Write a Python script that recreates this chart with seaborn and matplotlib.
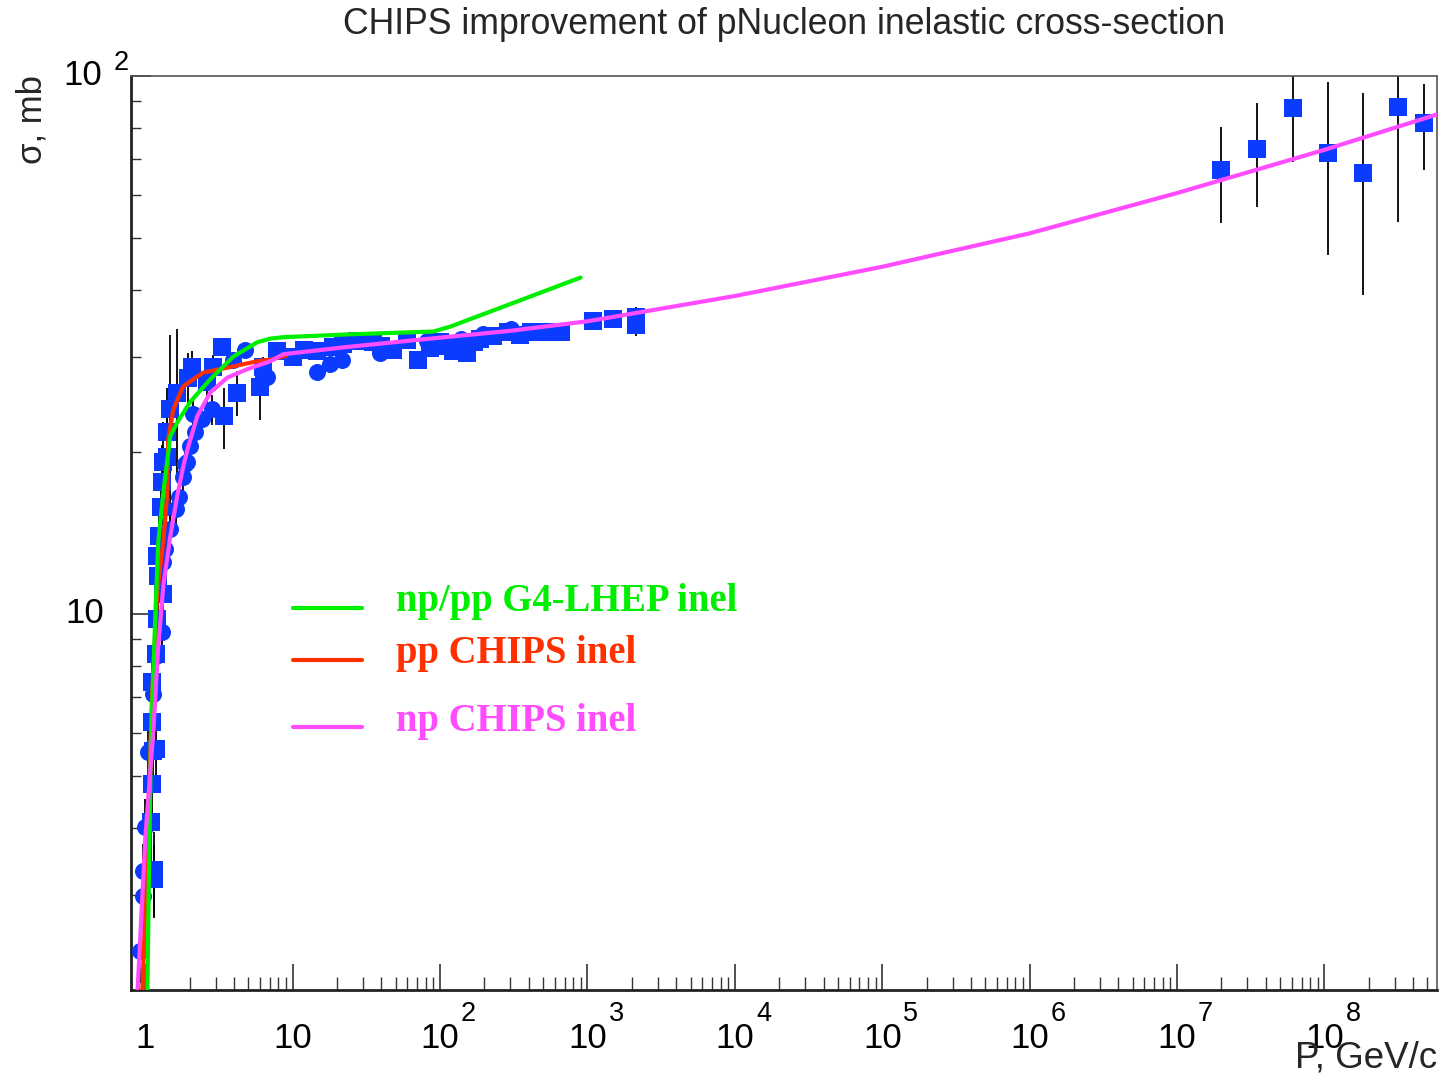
import matplotlib
matplotlib.use("Agg")
import matplotlib.pyplot as plt
import matplotlib.transforms as mtransforms
from matplotlib.ticker import LogLocator, NullFormatter
import numpy as np
import pandas as pd
import seaborn as sns

# ---------------- data ----------------
# proton-proton inelastic cross-section measurements (P in GeV/c, sigma in mb)
pp_p = [1.151, 1.151, 1.098, 1.115, 1.133, 1.188, 1.115, 1.115, 1.188, 1.206,
        1.325, 1.225, 1.206, 1.245, 1.284, 1.305, 1.325, 1.41, 1.41, 1.478,
        1.65, 1.96, 2.085, 2.63, 2.89, 3.33, 3.43, 4.21, 6.04, 6.33,
        7.87, 10.1, 12.0, 14.7, 18.9, 22.0, 27.5, 35.3, 40.0, 48.3,
        60.0, 70.3, 85.0, 100.0, 110.0, 123.0, 140.0, 153.0, 170.0, 188.0,
        230.0, 287.0, 350.0, 411.0, 504.0, 657.0, 1083.0, 1480.0, 2120.0, 2120.0,
        1.99e7, 3.49e7, 6.12e7, 1.06e8, 1.83e8, 3.16e8, 4.75e8]
pp_sig = [3.22, 3.34, 4.11, 4.84, 5.57, 5.62, 6.30, 7.48, 8.43, 9.79,
          10.9, 11.76, 12.8, 13.95, 15.8, 17.6, 19.2, 19.6, 21.8, 24.0,
          25.8, 27.5, 28.8, 27.0, 28.8, 31.3, 23.3, 25.8, 26.4, 28.8,
          30.8, 30.1, 31.0, 30.8, 31.3, 31.8, 32.1, 32.0, 31.5, 31.0,
          32.3, 29.7, 31.2, 32.0, 31.5, 30.8, 31.8, 30.6, 32.0, 32.4,
          32.8, 33.4, 33.0, 33.5, 33.4, 33.5, 35.0, 35.3, 35.6, 34.4,
          66.9, 73.2, 87.2, 72.0, 66.1, 87.6, 81.8]
pp_err = [0.5, 0.6, 0.7, 0.6, 0.9, 0.7, 0.9, 1.0, 1.1, 1.2,
          1.4, 1.6, 1.6, 2.2, 2.4, 3.0, 3.5, 3.5, 4.5, 9.0,
          8.0, 3.0, 2.0, 2.5, 1.5, 1.0, 3.0, 2.5, 3.5, 1.2,
          0.9, 0.9, 0.8, 0.7, 0.7, 0.6, 0.6, 0.6, 0.6, 0.7,
          0.6, 0.9, 0.6, 0.7, 0.6, 0.8, 0.6, 0.7, 0.6, 0.8,
          0.6, 0.7, 0.6, 0.6, 0.5, 0.4, 0.6, 0.5, 1.6, 1.6,
          13.5, 16.0, 18.0, 25.5, 27.0, 34.0, 15.0]

# neutron-proton inelastic cross-section measurements
np_p = [0.925, 0.969, 0.969, 1.0, 1.048, 1.133, 1.188, 1.305, 1.305, 1.325,
        1.367, 1.478, 1.623, 1.70, 1.81, 1.869, 1.93, 2.02, 2.12, 2.18,
        2.44, 2.85, 3.96, 4.77, 6.33, 6.73, 14.7, 18.0, 21.7, 39.4,
        82.1, 138.0, 197.0, 301.0]
np_sig = [2.36, 2.99, 3.33, 4.02, 5.55, 7.11, 8.36, 9.26, 11.0, 12.5,
          13.2, 14.4, 15.7, 16.5, 18.0, 19.0, 19.2, 20.5, 23.5, 21.8,
          23.0, 24.0, 29.7, 31.0, 27.6, 27.6, 28.2, 29.1, 29.7, 30.6,
          32.1, 32.4, 33.1, 33.8]
np_err = [0.3, 0.4, 0.4, 0.5, 0.6, 0.7, 0.8, 0.9, 1.0, 1.0,
          1.1, 1.2, 1.1, 1.1, 1.2, 1.2, 1.1, 1.3, 1.5, 1.5,
          1.5, 1.5, 1.0, 1.0, 1.3, 1.1, 1.0, 0.9, 0.9, 0.7,
          0.6, 0.6, 0.5, 0.5]

# model curves
lhep_p = [1.032, 1.09, 1.169, 1.225, 1.325, 1.367, 1.478, 1.648, 2.02, 2.76,
          3.96, 5.76, 7.06, 8.65, 24.6, 90.1, 117.0, 898.0]
lhep_sig = [1.95, 5.7, 9.92, 13.6, 16.8, 18.0, 21.4, 22.7, 24.8, 27.3,
            30.1, 32.0, 32.5, 32.7, 33.1, 33.5, 34.2, 42.2]

chips_pp_p = [0.954, 1.115, 1.206, 1.325, 1.41, 1.43, 1.549, 1.81, 2.47, 3.60,
              5.76, 7.06, 9.0]
chips_pp_sig = [1.95, 7.17, 10.99, 13.6, 16.8, 21.1, 24.0, 26.5, 28.1, 28.7,
                29.5, 29.7, 30.2]

chips_np_p = [0.883, 1.0, 1.133, 1.225, 1.325, 1.478, 1.648, 1.81, 1.96, 2.25,
              2.76, 3.60, 4.90, 7.06, 8.65, 24.6, 86.0, 300.0, 1.0e3, 1.0e4,
              1.0e5, 1.0e6, 1.0e7, 1.0e8, 5.7e8]
chips_np_sig = [1.95, 3.83, 6.04, 8.72, 11.27, 13.95, 16.6, 18.8, 20.5, 23.3,
                25.8, 27.5, 28.5, 29.5, 30.4, 31.4, 32.5, 33.6, 35.0, 39.0,
                44.2, 51.0, 60.6, 72.9, 84.7]

legend_labels = ["np/pp G4-LHEP inel", "pp CHIPS inel", "np CHIPS inel"]
x_decades = [0, 1, 2, 3, 4, 5, 6, 7, 8]

# ---------------- style ----------------
sns.set_style("white")
plt.rcParams['font.family'] = ['Liberation Sans', 'DejaVu Sans']

GREEN = "#00ee00"
RED = "#ff3000"
MAGENTA = "#ff4cff"
BLUE = "#0b3bff"

W, H = 1444, 1074
fig = plt.figure(figsize=(W / 100, H / 100), dpi=100)
x0, x1, y0, y1 = 131, 1437, 76, 990
ax = fig.add_axes([x0 / W, 1 - y1 / H, (x1 - x0) / W, (y1 - y0) / H])
ax.set_xscale("log")
ax.set_yscale("log")
ax.set_xlim(0.80, 5.8e8)
ax.set_ylim(2.0, 100.0)

pp_df = pd.DataFrame({"P": pp_p, "sigma": pp_sig, "err": pp_err})
np_df = pd.DataFrame({"P": np_p, "sigma": np_sig, "err": np_err})

# error bars under the markers
for df in (np_df, pp_df):
    ax.errorbar(df["P"], df["sigma"], yerr=df["err"], fmt="none",
                ecolor="black", elinewidth=1.3, capsize=0, zorder=2)

sns.scatterplot(data=np_df, x="P", y="sigma", marker="o", s=150, color=BLUE,
                edgecolor=BLUE, linewidth=0, ax=ax, zorder=3, legend=False)
sns.scatterplot(data=pp_df, x="P", y="sigma", marker="s", s=150, color=BLUE,
                edgecolor=BLUE, linewidth=0, ax=ax, zorder=3, legend=False)

curves = [
    (chips_pp_p, chips_pp_sig, RED),
    (lhep_p, lhep_sig, GREEN),
    (chips_np_p, chips_np_sig, MAGENTA),
]
for i, (px, py, col) in enumerate(curves):
    cdf = pd.DataFrame({"P": px, "sigma": py})
    sns.lineplot(data=cdf, x="P", y="sigma", color=col, linewidth=3,
                 sort=False, estimator=None, ax=ax, zorder=4 + i)

# frame and ticks
for side in ("left", "bottom"):
    ax.spines[side].set_color("#222222")
    ax.spines[side].set_linewidth(2)
for side in ("top", "right"):
    ax.spines[side].set_color("#555555")
    ax.spines[side].set_linewidth(1.2)

ax.xaxis.set_major_locator(LogLocator(base=10, numticks=20))
ax.xaxis.set_minor_locator(LogLocator(base=10, subs=np.arange(2, 10), numticks=20))
ax.yaxis.set_major_locator(LogLocator(base=10, numticks=10))
ax.yaxis.set_minor_locator(LogLocator(base=10, subs=np.arange(2, 10), numticks=10))
ax.xaxis.set_major_formatter(NullFormatter())
ax.xaxis.set_minor_formatter(NullFormatter())
ax.yaxis.set_major_formatter(NullFormatter())
ax.yaxis.set_minor_formatter(NullFormatter())
ax.tick_params(axis="x", which="major", direction="in", length=18.5, width=1.2,
               color="#333333", bottom=True, top=False)
ax.tick_params(axis="x", which="minor", direction="in", length=9.5, width=1.0,
               color="#333333", bottom=True, top=False)
ax.tick_params(axis="y", which="major", direction="in", length=14.5, width=1.2,
               color="#333333", left=True, right=False)
ax.tick_params(axis="y", which="minor", direction="in", length=7.5, width=1.0,
               color="#333333", left=True, right=False)
ax.set_xlabel("")
ax.set_ylabel("")

# tick labels, ROOT style: "10" centred on the tick with the exponent raised
FS = 25
xlab_tr = mtransforms.blended_transform_factory(ax.transData, fig.transFigure)
for e in x_decades:
    xv = 10.0 ** e
    base = "1" if e == 0 else "10"
    ax.text(xv, 1 - 1048 / H, base, transform=xlab_tr, ha="center",
            va="baseline", fontsize=FS, color="black", clip_on=False)
    if e >= 2:
        t = ax.text(xv, 1 - 1021 / H, str(e), transform=xlab_tr, ha="left",
                    va="baseline", fontsize=FS * 0.78, color="black", clip_on=False)
        t.set_transform(xlab_tr + mtransforms.ScaledTranslation(21 / 100, 0, fig.dpi_scale_trans))

ylab_tr = mtransforms.blended_transform_factory(fig.transFigure, ax.transData)
ax.text(104 / W, 10.0, "10", transform=ylab_tr, ha="right", va="center",
        fontsize=FS, color="black", clip_on=False)
ax.text(102 / W, 100.0, "10", transform=ylab_tr, ha="right", va="center",
        fontsize=FS, color="black", clip_on=False)
t2 = ax.text(114 / W, 100.0, "2", transform=ylab_tr, ha="left", va="center",
             fontsize=FS * 0.78, color="black", clip_on=False)
t2.set_transform(ylab_tr + mtransforms.ScaledTranslation(0, 13 / 100, fig.dpi_scale_trans))

# axis titles and main title
fig.text(32 / W, 1 - 75 / H, "σ, mb", rotation=90, ha="center", va="top",
         fontsize=FS)
fig.text(1437 / W, 1 - 1068 / H, "P, GeV/c", ha="right", va="baseline",
         fontsize=26.5)
fig.text(784 / W, 1 - 25 / H, "CHIPS improvement of pNucleon inelastic cross-section",
         ha="center", va="center", fontsize=25.7)

# legend drawn as lines plus coloured serif labels
leg_rows = [(608, GREEN), (660, RED), (727, MAGENTA)]
for (yy, col), lab in zip(leg_rows, legend_labels):
    fig.add_artist(plt.Line2D([293 / W, 362 / W], [1 - yy / H, 1 - yy / H],
                              color=col, linewidth=3, transform=fig.transFigure))
    fig.text(396 / W, 1 - (yy - 6) / H, lab, ha="left", va="center",
             fontsize=27.8, fontweight="bold", color=col,
             family=["Liberation Serif", "DejaVu Serif"])

fig.savefig("out.png", dpi=100)
